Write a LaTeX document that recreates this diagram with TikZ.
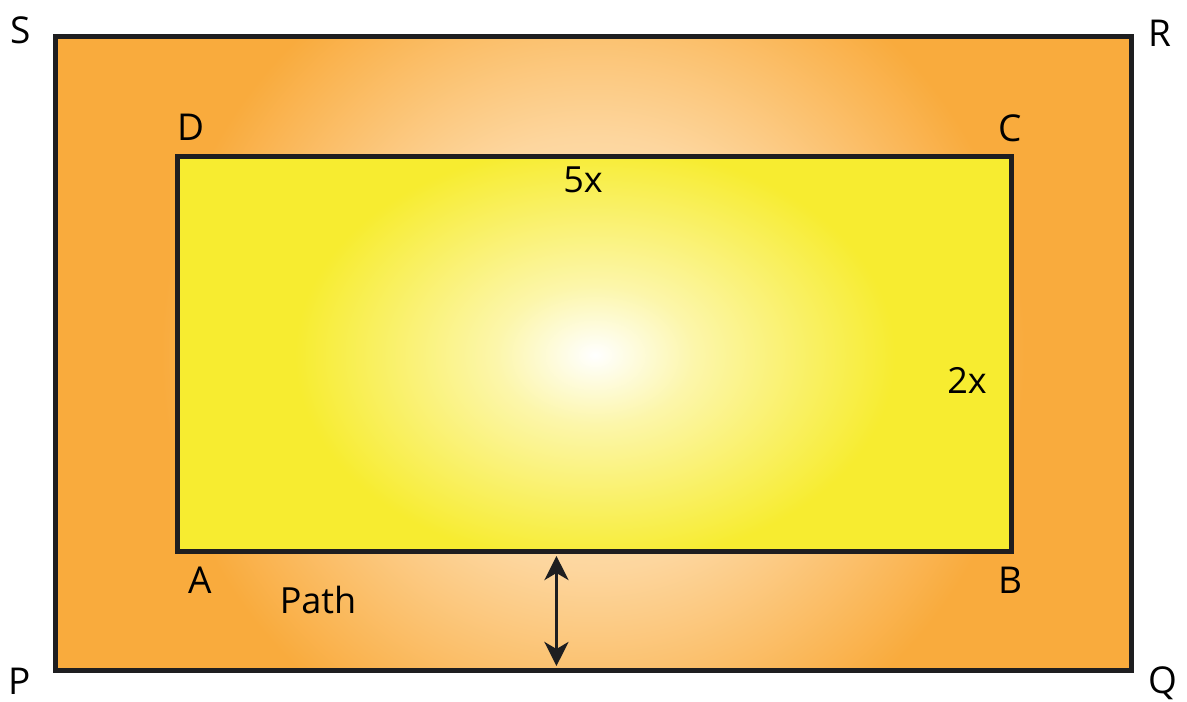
\documentclass[tikz,border=0pt]{standalone}
\usepackage{fontspec}
\setmainfont{Open Sans}
\usetikzlibrary{arrows.meta,positioning,calc}
\definecolor{pathOrange}{RGB}{249,171,61}
\definecolor{pathPeach}{RGB}{253,214,158}
\definecolor{pathCream}{RGB}{254,236,212}
\definecolor{parkYellow}{RGB}{247,236,48}
\definecolor{parkPale}{RGB}{252,246,170}
\definecolor{edgeDark}{RGB}{30,30,32}
\pgfdeclareradialshading{pathglow}{\pgfpoint{0bp}{0bp}}{color(0bp)=(pathCream); color(9bp)=(pathPeach); color(18bp)=(pathOrange); color(50bp)=(pathOrange)}
\pgfdeclareradialshading{parkglow}{\pgfpoint{0bp}{0bp}}{color(0bp)=(white); color(5bp)=(parkPale); color(15bp)=(parkYellow); color(50bp)=(parkYellow)}
\tikzset{
  edge/.style={draw=edgeDark, line width=5pt, line join=miter},
  corner/.style={inner sep=0pt, font=\fontsize{37}{42}\selectfont},
  measure/.style={inner sep=0pt, font=\fontsize{36}{42}\selectfont},
  gap/.style={draw=edgeDark, line width=3.5pt,
    {Stealth[length=24pt,width=24pt,inset=7pt]}-{Stealth[length=24pt,width=24pt,inset=7pt]}}
}

\begin{document}
\begin{tikzpicture}[x=1pt,y=-1pt]
  \useasboundingbox (0,0) rectangle (1187,702);
  % outer field PQRS
  \coordinate (P) at (55,670);
  \coordinate (Q) at (1131,670);
  \coordinate (R) at (1131,36);
  \coordinate (S) at (55,36);
  % park ABCD
  \coordinate (A) at (177,551);
  \coordinate (B) at (1011,551);
  \coordinate (C) at (1011,156);
  \coordinate (D) at (177,156);

  \begin{scope}
    \clip (P) rectangle (R);
    \shade[shading=pathglow] (-7,-247) rectangle (1193,953);
  \end{scope}
  \draw[edge] (P) rectangle (R);

  \begin{scope}
    \clip (A) rectangle (C);
    \shade[shading=parkglow] (95,5) rectangle (1095,705);
  \end{scope}
  \draw[edge] (A) rectangle (C);

  % width of the path
  \coordinate (gapTop) at ($(A)!0.455!(B)+(0,5)$);
  \coordinate (gapBot) at ($(gapTop |- P)+(0,-4)$);
  \draw[gap] (gapTop) -- (gapBot);

  \node[corner] (labS) at (21,30) {S};
  \node[corner] (labR) at (1160,33) {R};
  \node[corner] (labP) at (20,681) {P};
  \node[corner] (labQ) at (1163,683) {Q};
  \node[corner] (labD) at (191,127) {D};
  \node[corner] (labC) at (1010,128) {C};
  \node[corner] (labA) at (200,580) {A};
  \node[corner] (labB) at (1010,580) {B};
  \node[measure] (side5) at (583,180) {5x};
  \node[measure] (side2) at (967,380) {2x};
  \node[measure] (pathname) at (318,600) {Path};
\end{tikzpicture}
\end{document}
